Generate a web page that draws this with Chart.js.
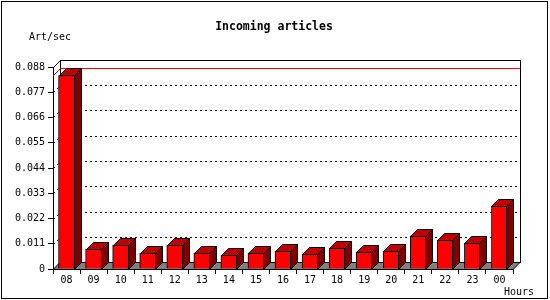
<!DOCTYPE html>
<html>
<head>
<meta charset="utf-8">
<script src="https://cdn.jsdelivr.net/npm/chart.js@4.4.1/dist/chart.umd.min.js"></script>
<style>
  html, body { margin: 0; padding: 0; background: #fff; }
  canvas { display: block; }
</style>
</head>
<body>
<canvas id="chart" width="550" height="300"></canvas>
<script>
const hours = ['08', '09', '10', '11', '12', '13', '14', '15', '16', '17', '18', '19', '20', '21', '22', '23', '00'];
const articlesPerSec = [0.0843, 0.0086, 0.0103, 0.0068, 0.0103, 0.0068, 0.0060, 0.0068, 0.0078, 0.0064,
  0.0090, 0.0073, 0.0078, 0.0142, 0.0125, 0.0112, 0.0273];
const yTickValues = [0, 0.011, 0.022, 0.033, 0.044, 0.055, 0.066, 0.077, 0.088];
const yTickLabels = ['0', '0.011', '0.022', '0.033', '0.044', '0.055', '0.066', '0.077', '0.088'];

const DEPTH = 7;
const MONO = '"DejaVu Sans Mono", "Liberation Mono", monospace';

// back wall, floor, dotted grid and the max line, drawn behind the bars
const box3d = {
  id: 'box3d',
  beforeDatasetsDraw(chart) {
    const { ctx, chartArea: a, scales: { y } } = chart;
    const L = Math.round(a.left), R = Math.round(a.right);
    const T = Math.round(a.top), B = Math.round(a.bottom);
    ctx.save();
    ctx.lineWidth = 1;

    // floor
    ctx.fillStyle = '#808080';
    ctx.strokeStyle = '#000';
    ctx.beginPath();
    ctx.moveTo(L, B + 0.5);
    ctx.lineTo(R, B + 0.5);
    ctx.lineTo(R + DEPTH, B - DEPTH + 0.5);
    ctx.lineTo(L + DEPTH, B - DEPTH + 0.5);
    ctx.closePath();
    ctx.fill();
    ctx.stroke();

    // back plane
    ctx.strokeRect(L + DEPTH + 0.5, T - DEPTH + 0.5, R - L, B - T);
    // top edge of left wall
    ctx.beginPath();
    ctx.moveTo(L + 0.5, T + 0.5);
    ctx.lineTo(L + DEPTH + 0.5, T - DEPTH + 0.5);
    ctx.stroke();

    // dotted grid on back wall + left wall
    ctx.setLineDash([2, 3]);
    yTickValues.forEach(v => {
      if (v === 0 || v === yTickValues[yTickValues.length - 1]) return;
      const py = Math.round(y.getPixelForValue(v));
      ctx.beginPath();
      ctx.moveTo(L + DEPTH, py - DEPTH + 0.5);
      ctx.lineTo(R + DEPTH, py - DEPTH + 0.5);
      ctx.moveTo(L + 0.5, py + 0.5);
      ctx.lineTo(L + DEPTH + 0.5, py - DEPTH + 0.5);
      ctx.stroke();
    });
    ctx.setLineDash([]);

    // max line
    const maxVal = Math.max(...articlesPerSec);
    const my = Math.round(y.getPixelForValue(maxVal));
    ctx.strokeStyle = '#ff0000';
    ctx.beginPath();
    ctx.moveTo(L + DEPTH, my - DEPTH + 0.5);
    ctx.lineTo(R + DEPTH, my - DEPTH + 0.5);
    ctx.moveTo(L + 0.5, my + 0.5);
    ctx.lineTo(L + DEPTH + 0.5, my - DEPTH + 0.5);
    ctx.stroke();
    ctx.restore();
  },
  afterDatasetsDraw(chart) {
    const { ctx } = chart;
    ctx.save();
    ctx.lineWidth = 1;
    ctx.strokeStyle = '#000';
    chart.getDatasetMeta(0).data.forEach(bar => {
      const l = Math.round(bar.x - bar.width / 2) + 0.5;
      const r = Math.round(bar.x + bar.width / 2) - 0.5;
      const t = Math.round(bar.y) + 0.5;
      const b = Math.round(bar.base) + 0.5;
      // top face
      ctx.fillStyle = '#c00000';
      ctx.beginPath();
      ctx.moveTo(l, t);
      ctx.lineTo(l + DEPTH, t - DEPTH);
      ctx.lineTo(r + DEPTH, t - DEPTH);
      ctx.lineTo(r, t);
      ctx.closePath();
      ctx.fill();
      ctx.stroke();
      // side face
      ctx.fillStyle = '#800000';
      ctx.beginPath();
      ctx.moveTo(r, t);
      ctx.lineTo(r + DEPTH, t - DEPTH);
      ctx.lineTo(r + DEPTH, b - DEPTH);
      ctx.lineTo(r, b);
      ctx.closePath();
      ctx.fill();
      ctx.stroke();
    });
    ctx.restore();
  },
  afterDraw(chart) {
    const { ctx } = chart;
    ctx.save();
    ctx.strokeStyle = '#000';
    ctx.lineWidth = 1;
    ctx.strokeRect(1.5, 1.5, 546, 297);
    ctx.fillStyle = '#000';
    ctx.textBaseline = 'middle';
    ctx.font = 'bold 11.5px ' + MONO;
    ctx.textAlign = 'center';
    ctx.fillText('Incoming articles', 274, 27);
    ctx.font = '10px ' + MONO;
    ctx.textAlign = 'left';
    ctx.fillText('Art/sec', 29, 37);
    ctx.fillText('Hours', 504, 292);
    ctx.restore();
  }
};

new Chart(document.getElementById('chart'), {
  type: 'bar',
  data: {
    labels: hours,
    datasets: [{
      data: articlesPerSec,
      backgroundColor: '#ff0000',
      borderColor: '#000',
      borderWidth: 1,
      borderSkipped: 'start',
      barThickness: 16
    }]
  },
  options: {
    responsive: false,
    animation: false,
    layout: { padding: { left: 0, right: 37, top: 67, bottom: 1 } },
    plugins: { legend: { display: false }, tooltip: { enabled: false }, title: { display: false } },
    scales: {
      x: {
        offset: true,
        afterFit: s => { s.height = 30; },
        grid: { display: true, drawOnChartArea: false, offset: true, tickLength: 5, color: '#000' },
        border: { display: true, color: '#000' },
        ticks: { color: '#000', padding: 0, font: { family: MONO, size: 10 }, maxRotation: 0, autoSkip: false }
      },
      y: {
        min: 0,
        max: 0.088,
        afterFit: s => { s.width = 53; },
        afterBuildTicks: s => { s.ticks = yTickValues.map(v => ({ value: v })); },
        grid: { display: true, drawOnChartArea: false, tickLength: 5, color: '#000' },
        border: { display: true, color: '#000' },
        ticks: {
          color: '#000',
          padding: 3,
          font: { family: MONO, size: 10 },
          callback: (v, i) => yTickLabels[i]
        }
      }
    }
  },
  plugins: [box3d]
});
</script>
</body>
</html>
